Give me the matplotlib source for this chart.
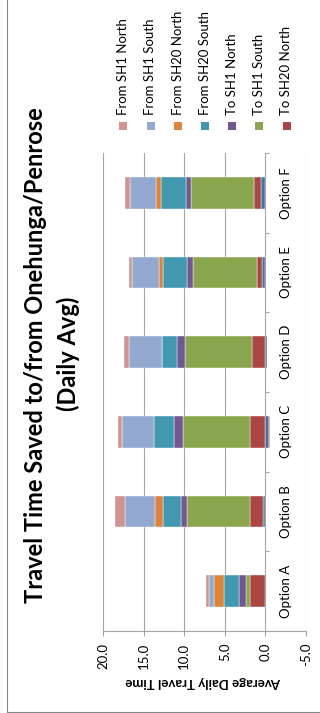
import matplotlib
matplotlib.use("Agg")
import matplotlib.pyplot as plt
from matplotlib.lines import Line2D
from matplotlib.patches import Rectangle
import numpy as np

plt.rcParams['font.family'] = ['Lato', 'DejaVu Sans']

categories = ["Option A", "Option B", "Option C", "Option D", "Option E", "Option F"]

# Series in stacking order (closest to zero first)
to_sh20_south = [0.10, 0.25, -0.45, -0.20, 0.44, 0.57]
to_sh20_north = [1.76, 1.60, 1.85, 1.64, 0.58, 0.79]
to_sh1_south = [0.49, 7.79, 8.28, 8.24, 7.90, 7.79]
to_sh1_north = [0.90, 0.70, 1.07, 1.02, 0.70, 0.65]
from_sh20_south = [1.89, 2.29, 2.46, 1.85, 3.04, 3.04]
from_sh20_north = [1.23, 0.98, -0.12, 0.00, 0.44, 0.65]
from_sh1_south = [0.62, 3.62, 4.01, 4.06, 3.32, 3.20]
from_sh1_north = [0.33, 1.35, 0.54, 0.57, 0.41, 0.54]

series_names = ["To SH20 South", "To SH20 North", "To SH1 South", "To SH1 North",
                "From SH20 South", "From SH20 North", "From SH1 South", "From SH1 North"]
series_values = [to_sh20_south, to_sh20_north, to_sh1_south, to_sh1_north,
                 from_sh20_south, from_sh20_north, from_sh1_south, from_sh1_north]
series_colors = ["#4572A7", "#AA4643", "#89A54E", "#71588F",
                 "#4198AF", "#DB843D", "#93A9CF", "#D19392"]
legend_names = ["From SH1 North", "From SH1 South", "From SH20 North", "From SH20 South",
                "To SH1 North", "To SH1 South", "To SH20 North"]

value_ticks = [20.0, 15.0, 10.0, 5.0, 0.0, -5.0]

W, H = 320, 713
fig = plt.figure(figsize=(W / 100, H / 100), dpi=100)
fig.patch.set_facecolor("white")

def fx(px):
    return px / W

def fy(py):
    return 1 - py / H

ax = fig.add_axes([fx(103), fy(631), (306 - 103) / W, (631 - 153) / H])

ypos = np.arange(len(categories))
pos_base = np.zeros(len(categories))
neg_base = np.zeros(len(categories))
for vals, color, name in zip(series_values, series_colors, series_names):
    vals = np.array(vals, dtype=float)
    left = np.where(vals >= 0, pos_base, neg_base)
    ax.barh(ypos, vals, left=left, height=0.4, color=color,
            edgecolor="white", linewidth=0.3, label=name, zorder=3)
    pos_base += np.where(vals >= 0, vals, 0)
    neg_base += np.where(vals < 0, vals, 0)

ax.set_xlim(20, -5)
ax.set_ylim(-0.5, len(categories) - 0.5)

grid_c = "#A5A5A5"
ax.set_xticks(value_ticks)
ax.set_xticklabels([f"{v:.1f}" for v in value_ticks], rotation=90, fontsize=9.5)
ax.tick_params(axis="x", direction="out", length=3.5, width=0.8, color=grid_c, pad=5)
ax.set_yticks([])
for s in ["top", "right", "left"]:
    ax.spines[s].set_visible(False)
ax.spines["bottom"].set_color(grid_c)
ax.spines["bottom"].set_linewidth(0.8)

for v in value_ticks:
    if v != 0:
        ax.axvline(v, color=grid_c, linewidth=0.8, zorder=1)

# Category axis crosses at zero
ax.axvline(0, color=grid_c, linewidth=0.8, zorder=4)
bounds = np.arange(len(categories) + 1) - 0.5
ax.hlines(bounds, 0, -0.45, color=grid_c, linewidth=0.8, zorder=4, clip_on=False)
for i, c in enumerate(categories):
    ax.annotate(c, xy=(0, i), xytext=(14.5, 0), textcoords="offset points",
                rotation=90, ha="center", va="center", fontsize=9.5)

# Axis title
fig.text(fx(203), fy(682), "Average Daily Travel Time", rotation=180,
         ha="center", va="center", fontsize=9.5, fontweight="bold")

# Chart title
fig.text(fx(36), fy(355), "Travel Time Saved to/from Onehunga/Penrose", rotation=90,
         ha="center", va="center", fontsize=17, fontweight="bold")
fig.text(fx(68), fy(354), "(Daily Avg)", rotation=90,
         ha="center", va="center", fontsize=17, fontweight="bold")

# Legend
color_by_name = dict(zip(series_names, series_colors))
for i, name in enumerate(legend_names):
    cx = 123.3 + 27.2 * i
    fig.patches.append(Rectangle((fx(cx - 4), fy(129.5)), 8 / W, 8 / H,
                                 transform=fig.transFigure, facecolor=color_by_name[name],
                                 edgecolor="none"))
    fig.text(fx(cx), fy(115), name, rotation=90, ha="center", va="bottom", fontsize=9.5)

# Chart area border
border_c = "#888888"
fig.lines.append(Line2D([fx(7), fx(7)], [fy(711.5), 1], transform=fig.transFigure,
                        color=border_c, linewidth=0.8))
fig.lines.append(Line2D([fx(7), 1], [fy(711.5), fy(711.5)], transform=fig.transFigure,
                        color=border_c, linewidth=0.8))

fig.savefig("out.png", dpi=100)
